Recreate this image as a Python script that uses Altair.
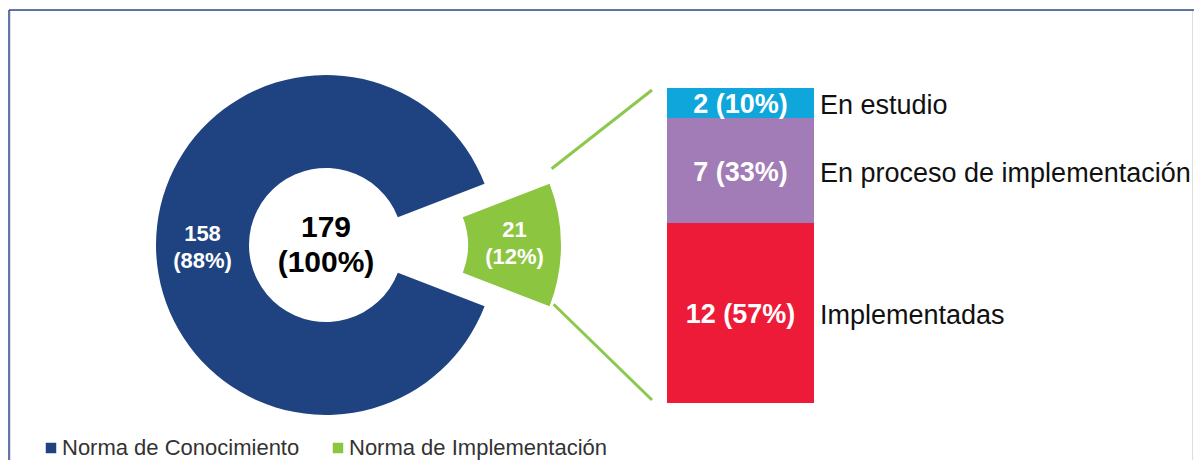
import math
import altair as alt
import pandas as pd

# ---------------- data ----------------
donut_cats = ["Norma de Implementación", "Norma de Conocimiento"]
donut_vals = [21, 158]
legend_order = ["Norma de Conocimiento", "Norma de Implementación"]
legend_colors = ["#1F4381", "#8CC540"]

bar_cats = ["Implementadas", "En proceso de implementación", "En estudio"]
bar_vals = [12, 7, 2]
bar_colors = ["#ED1A38", "#A17CB6", "#0FA6DC"]

total = sum(donut_vals)
sub_total = sum(bar_vals)

# ---------------- layout ----------------
FONT = "Liberation Sans"
W, H = 1182, 450
CX, CY = 316, 235
R_OUT, R_IN = 170, 77
EXPLODE = 65
BAR_X0, BAR_X1 = 657, 804
BAR_TOP, BAR_BOTTOM = 78, 393
LINE_GREEN = "#8DC84E"
BORDER = "#2E4A8B"

span = 2 * math.pi * donut_vals[0] / total
t0 = math.pi / 2 - span / 2
theta_scale = alt.Scale(domain=[0, total], range=[t0, t0 + 2 * math.pi])

donut_df = pd.DataFrame({
    "cat": donut_cats,
    "value": donut_vals,
    "order": list(range(len(donut_cats))),
    "label": [f"{v}\n({round(100 * v / total)}%)" for v in donut_vals],
})

bar_df = pd.DataFrame({
    "cat": bar_cats,
    "value": bar_vals,
    "order": list(range(len(bar_cats))),
    "color": bar_colors,
    "label": [f"{v} ({round(100 * v / sub_total)}%)" for v in bar_vals],
})

color_enc = alt.Color(
    "cat:N",
    scale=alt.Scale(domain=legend_order, range=legend_colors),
    legend=alt.Legend(
        title=None, orient="none", legendX=30, legendY=427,
        direction="horizontal", symbolType="square", symbolSize=110,
        symbolStrokeWidth=0, labelFontSize=22, labelFont=FONT,
        labelColor="#333333", columnPadding=27, labelOffset=0, padding=0,
        labelLimit=0,
    ),
)

dbase = (
    alt.Chart(donut_df)
    .transform_stack(stack="value", groupby=[], as_=["start", "end"],
                     sort=[alt.SortField("order", order="ascending")])
    .transform_calculate(mid="(datum.start + datum.end) / 2")
)

def arc_layer(cat, cx):
    return dbase.transform_filter(alt.datum.cat == cat).mark_arc(
        innerRadius=R_IN, outerRadius=R_OUT
    ).encode(
        theta=alt.Theta("start:Q", scale=theta_scale),
        theta2="end:Q",
        color=color_enc,
        x=alt.value(cx), y=alt.value(CY),
    )

def arc_text(cat, cx, dy):
    return dbase.transform_filter(alt.datum.cat == cat).mark_text(
        radius=(R_IN + R_OUT) / 2, lineBreak="\n", lineHeight=27,
        fontSize=22, fontWeight="bold", color="white", font=FONT,
        baseline="middle", align="center", dy=dy,
    ).encode(
        theta=alt.Theta("mid:Q", scale=theta_scale),
        text="label:N",
        x=alt.value(cx), y=alt.value(CY),
    )

blue_arc = arc_layer(donut_cats[1], CX)
green_arc = arc_layer(donut_cats[0], CX + EXPLODE)
blue_txt = arc_text(donut_cats[1], CX, -11)
green_txt = arc_text(donut_cats[0], CX + EXPLODE, -15)

center_txt = alt.Chart(pd.DataFrame({"t": [f"{total}\n(100%)"]})).mark_text(
    fontSize=30, fontWeight="bold", lineBreak="\n", lineHeight=35,
    color="black", font=FONT, baseline="middle", align="center",
).encode(text="t:N", x=alt.value(CX), y=alt.value(CY - 17))

# ---------------- stacked bar ----------------
y_scale = alt.Scale(domain=[0, sub_total], range=[BAR_BOTTOM, BAR_TOP])
bbase = (
    alt.Chart(bar_df)
    .transform_stack(stack="value", groupby=[], as_=["y0", "y1"],
                     sort=[alt.SortField("order", order="ascending")])
    .transform_calculate(mid="(datum.y0 + datum.y1) / 2")
)
bars = bbase.mark_rect().encode(
    y=alt.Y("y0:Q", scale=y_scale, axis=None),
    y2="y1:Q",
    x=alt.value(BAR_X0), x2=alt.value(BAR_X1),
    fill=alt.Fill("color:N", scale=None),
)
bar_txt = bbase.mark_text(
    fontSize=27, fontWeight="bold", color="white", font=FONT,
    align="center", baseline="middle", dy=2,
).encode(
    y=alt.Y("mid:Q", scale=y_scale, axis=None),
    x=alt.value((BAR_X0 + BAR_X1) / 2),
    text="label:N",
)
bar_names = bbase.mark_text(
    fontSize=27, color="#111111", font=FONT, align="left", baseline="middle",
    dy=3,
).encode(
    y=alt.Y("mid:Q", scale=y_scale, axis=None),
    x=alt.value(BAR_X1 + 6),
    text="cat:N",
)

# ---------------- connectors ----------------
gx = CX + EXPLODE
a_top, a_bot = t0, t0 + span
top_corner = (gx + R_OUT * math.sin(a_top), CY - R_OUT * math.cos(a_top))
bot_corner = (gx + R_OUT * math.sin(a_bot), CY - R_OUT * math.cos(a_bot))
one = pd.DataFrame({"k": [0]})

def seg(x1, y1, x2, y2, color, w):
    return alt.Chart(one).mark_rule(color=color, strokeWidth=w).encode(
        x=alt.value(x1), y=alt.value(y1), x2=alt.value(x2), y2=alt.value(y2)
    )

conn_top = seg(top_corner[0] + 2, top_corner[1] - 15, BAR_X0 - 15, BAR_TOP + 2, LINE_GREEN, 3)
conn_bot = seg(bot_corner[0] + 4, bot_corner[1] - 2, BAR_X0 - 15, BAR_BOTTOM - 3, LINE_GREEN, 3)

border_top = seg(-1, 0, W + 2, 0, BORDER, 1.5)
border_left = seg(-1, 0, -1, H + 2, BORDER, 1.5)

chart = alt.layer(
    border_top, border_left,
    conn_top, conn_bot,
    blue_arc, green_arc, blue_txt, green_txt, center_txt,
    bars, bar_txt, bar_names,
).properties(
    width=W, height=H,
    padding={"left": 2, "top": 2, "right": 2, "bottom": 0},
    autosize=alt.AutoSizeParams(type="none"),
).configure_view(stroke=None).configure(font=FONT)

chart.save("out.html", embed_options={"renderer": "svg", "actions": False})
